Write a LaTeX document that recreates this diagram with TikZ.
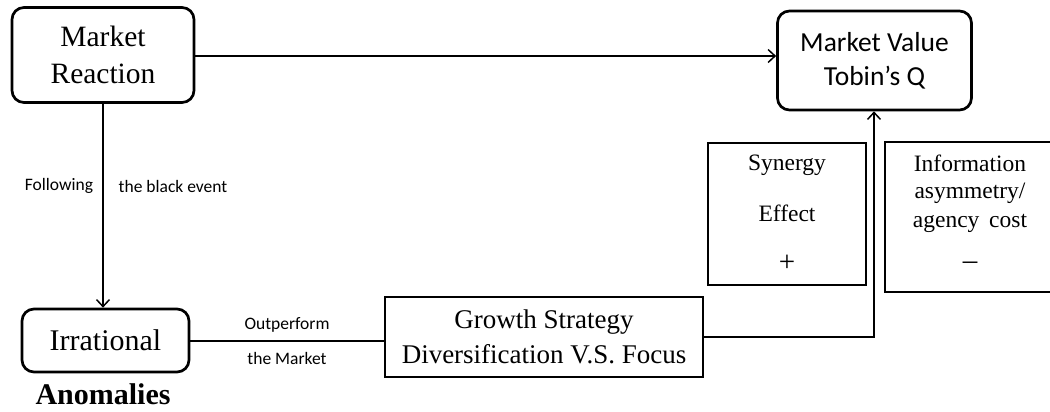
\documentclass[tikz,border=0pt]{standalone}
\usepackage{fontspec}
\setmainfont{Liberation Serif}
\newfontfamily\carlitofont{Carlito}
\usetikzlibrary{arrows.meta}
\begin{document}
\begin{tikzpicture}[x=1pt,y=-1pt,
  rbox/.style={draw,line width=2.7pt,rounded corners=12pt,inner sep=0pt,align=center},
  sbox/.style={draw,line width=2.7pt,inner sep=0pt,align=center},
  conn/.style={line width=1.5pt},
  arr/.style={conn,-{Straight Barb[length=7pt,width=13pt,line width=1.5pt]}},
  serif/.style={font=\fontsize{23.5}{28}\selectfont,inner sep=0pt},
  sign/.style={font=\fontsize{29}{32}\selectfont,inner sep=0pt},
  lab/.style={font=\carlitofont\fontsize{17.5}{21}\selectfont,inner sep=0pt}]
\useasboundingbox (0,0) rectangle (1050,412);
\node[rbox,minimum width=182pt,minimum height=95pt,font=\fontsize{29.5}{37}\selectfont] (mr) at (103,55) {Market\\Reaction};
\node[rbox,minimum width=194pt,minimum height=99pt,font=\carlitofont\fontsize{27.5}{34}\selectfont] (mv) at (874.5,60.5) {Market Value\\Tobin’s Q};
\node[rbox,minimum width=167pt,minimum height=63pt,font=\fontsize{30}{36}\selectfont] (irr) at (105.5,340.5) {Irrational};
\node[inner sep=0pt,font=\bfseries\fontsize{30}{36}\selectfont] (anom) at (103,394) {Anomalies};
\node[sbox,minimum width=318pt,minimum height=80pt,font=\fontsize{27}{35}\selectfont] (gs) at (544,337) {Growth Strategy\\Diversification V.S. Focus};
\node[sbox,minimum width=158pt,minimum height=142pt] (syn) at (787,214) {};
\node[serif] (syn1) at (787,165) {Synergy};
\node[serif] (syn2) at (787,213) {Effect};
\node[sign] (syn3) at (787,263) {+};
\node[sbox,minimum width=174pt,minimum height=150pt] (inf) at (972,217) {};
\node[serif] (inf1) at (970,163) {Information};
\node[serif] (inf2) at (970,193) {asymmetry/};
\node[serif] (inf3) at (970,223) {agency\, cost};
\node[sign] (inf4) at (970,266) {\textendash};
\node[lab] (f1) at (59,186) {Following};
\node[lab] (f2) at (173,186) {the black event};
\node[lab] (o1) at (287,325) {Outperform};
\node[lab] (o2) at (287,358) {the Market};
\coordinate (corner) at (874,337);
\draw[arr] (mr.east |- 0,56) -- (mv.west |- 0,56);
\draw[arr] (mr.south) -- (irr.north -| mr.south);
\draw[conn] (irr.east |- 0,341) -- (gs.west |- 0,341);
\draw[arr] (gs.east |- corner) -- (corner) -- (mv.south -| corner);
\end{tikzpicture}
\end{document}
